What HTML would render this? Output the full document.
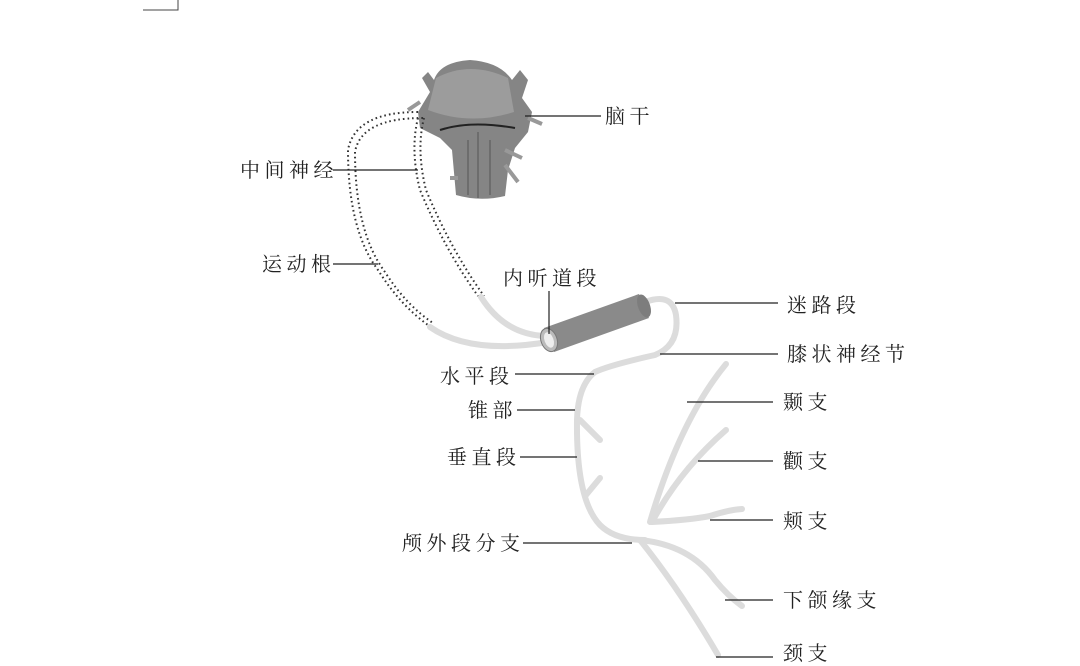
<!DOCTYPE html>
<html><head><meta charset="utf-8"><style>
html,body{margin:0;padding:0;background:#fff;}
svg{display:block}
text{font-family:"Liberation Serif","Noto Serif CJK SC",serif;font-size:20px;fill:#222;letter-spacing:4.5px}
</style></head><body>
<svg width="1080" height="666" viewBox="0 0 1080 666" xmlns="http://www.w3.org/2000/svg">
<path d="M143 10H178V0" fill="none" stroke="#444" stroke-width="1"/>
<!-- brainstem -->
<g>
<path d="M428 72 L422 78 L430 92 L418 112 L420 128 L440 138 L452 150 L456 195 Q480 202 505 196 L508 170 L515 148 L528 132 L532 112 L522 98 L528 80 L520 70 L512 80 Q500 62 470 60 Q440 62 434 80 Z" fill="#858585"/>
<path d="M436 78 Q470 60 508 78 L514 112 Q470 126 428 110 Z" fill="#9c9c9c"/>
<path d="M440 130 Q470 120 515 128" stroke="#222" stroke-width="2" fill="none"/>
<path d="M478 132 V198 M468 140 V195 M490 140 V195" stroke="#555" stroke-width="1" fill="none"/>
<path d="M420 102 L408 110 M528 118 L542 124 M505 150 L522 158 M505 165 L518 182 M458 178 L450 178" stroke="#999" stroke-width="4"/>
</g>
<!-- dotted roots -->
<g fill="none" stroke="#333" stroke-width="2" stroke-dasharray="1.6 3">
<path d="M418 112 Q355 112 348 150 Q348 230 378 270 Q400 305 428 325"/>
<path d="M423 118 Q361 118 355 152 Q355 232 385 272 Q406 305 433 323"/>
<path d="M418 118 Q410 150 420 190 Q445 250 478 296"/>
<path d="M424 118 Q416 150 426 190 Q451 250 484 296"/>
</g>
<g fill="none" stroke="#dcdcdc" stroke-width="6" stroke-linecap="round">
<path d="M430 327 Q470 355 548 342"/>
<path d="M481 297 Q505 335 546 336"/>
<path d="M645 302 Q672 292 676 315 Q680 345 655 355 Q610 365 595 372 Q578 385 577 420 Q576 500 600 525 Q615 540 645 540"/>
<path d="M650 522 Q680 420 726 364"/>
<path d="M652 522 Q680 470 726 430"/>
<path d="M652 522 Q690 520 710 516 Q728 510 742 509"/>
<path d="M640 540 Q690 545 715 580 Q728 596 742 606"/>
<path d="M640 540 Q680 590 718 655"/>
<path d="M580 420 L600 440 M586 495 L600 478"/>
</g>
<!-- tube -->
<g>
<path d="M544 328 L639 294 L649 318 L554 352 Z" fill="#8a8a8a"/>
<ellipse cx="644" cy="306" rx="6" ry="12" transform="rotate(-20 644 306)" fill="#7d7d7d"/>
<ellipse cx="549" cy="340" rx="8" ry="12" transform="rotate(-20 549 340)" fill="#bbb" stroke="#777"/>
<ellipse cx="549" cy="340" rx="4.5" ry="8" transform="rotate(-20 549 340)" fill="#eee"/>
</g>
<g stroke="#222" stroke-width="1.2">
<line x1="525" y1="116" x2="601" y2="116"/>
<line x1="333" y1="170" x2="418" y2="170"/>
<line x1="333" y1="264" x2="378" y2="264"/>
<line x1="549" y1="291" x2="549" y2="334"/>
<line x1="675" y1="303" x2="778" y2="303"/>
<line x1="660" y1="354" x2="778" y2="354"/>
<line x1="515" y1="374" x2="594" y2="374"/>
<line x1="517" y1="410" x2="575" y2="410"/>
<line x1="520" y1="457" x2="577" y2="457"/>
<line x1="687" y1="402" x2="773" y2="402"/>
<line x1="698" y1="461" x2="773" y2="461"/>
<line x1="710" y1="520" x2="773" y2="520"/>
<line x1="523" y1="543" x2="632" y2="543"/>
<line x1="725" y1="600" x2="773" y2="600"/>
<line x1="716" y1="657" x2="773" y2="657"/>
</g>
<text x="605" y="123">脑干</text>
<text x="240" y="177">中间神经</text>
<text x="262" y="271">运动根</text>
<text x="503" y="285">内听道段</text>
<text x="787" y="312">迷路段</text>
<text x="787" y="361">膝状神经节</text>
<text x="440" y="383">水平段</text>
<text x="468" y="417">锥部</text>
<text x="447" y="464">垂直段</text>
<text x="783" y="409">颞支</text>
<text x="783" y="468">颧支</text>
<text x="783" y="528">颊支</text>
<text x="402" y="550">颅外段分支</text>
<text x="783" y="607">下颌缘支</text>
<text x="783" y="660">颈支</text>
</svg>
</body></html>
